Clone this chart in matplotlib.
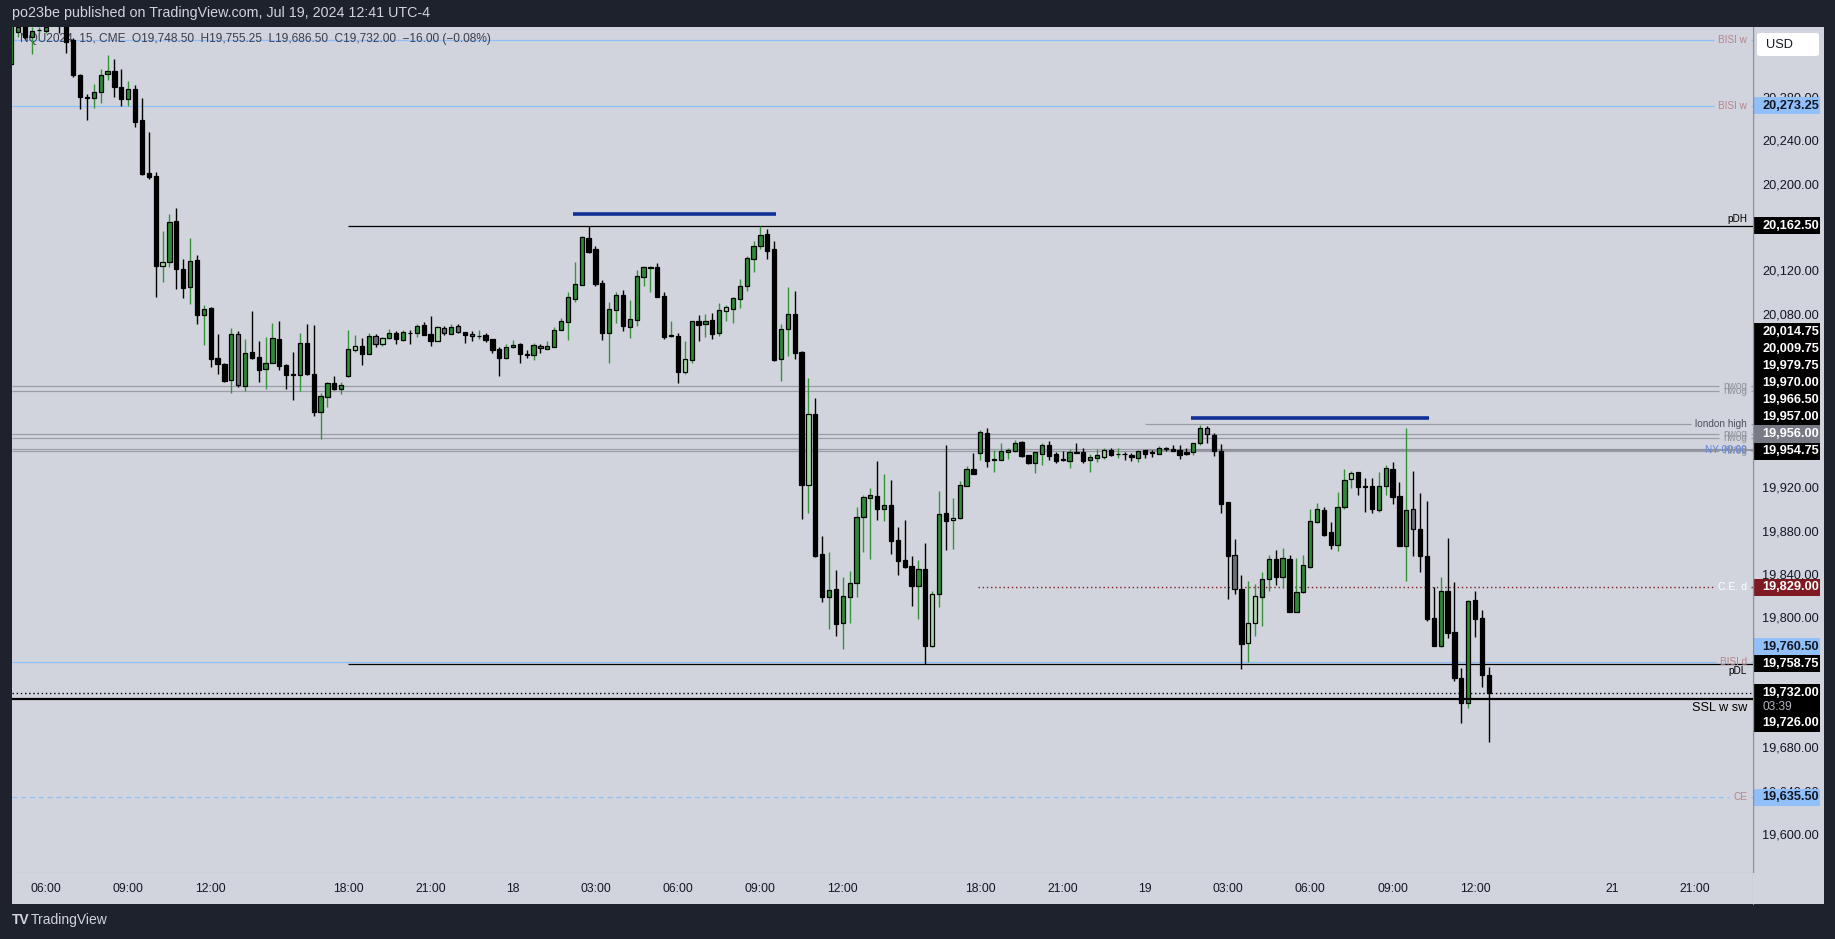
import numpy as np
import pandas as pd
import matplotlib
matplotlib.use('Agg')
import matplotlib.pyplot as plt
from matplotlib.patches import Rectangle, FancyBboxPatch
from matplotlib.transforms import blended_transform_factory

plt.rcParams['font.family'] = ['Liberation Sans', 'DejaVu Sans']

W, H = 1835, 939

# NQU2024, 15 min bars, CME, times UTC-4. first visible bar: Jul 17 04:45
first_bar = '2024-07-17 04:45'

opens = [
    20312, 20341.5, 20350, 20336.25, 20343, 20342, 20356, 20360, 20350, 20333.75,
    20301.5, 20281, 20280, 20285.5, 20302, 20305.25, 20290.75, 20279, 20288.5, 20260,
    20210.75, 20208.25, 20125.5, 20129.25, 20166.75, 20122.5, 20106.25, 20131, 20080.5, 20086.5,
    20040.5, 20035, 20020, 20062.5, 20015, 20045.75, 20041.5, 20030.5, 20036.25, 20057.75,
    20034.5, 20025.5, 20024.5, 20054, 20025.75, 19991, 20005, 20017.25, 20012.25, 20023.5,
    20047.5, 20051.75, 20044.5, 20060.5, 20053, 20058.75, 20063.25, 20057, 20063.5, 20063.25,
    20070.75, 20062.5, 20056.5, 20068.25, 20063, 20069.75, 20064.25, 20062.5, 20060.5, 20061.75,
    20057.75, 20048.5, 20041, 20050.5, 20053.25, 20044, 20043, 20051.75, 20049.25, 20051,
    20066, 20074, 20095.25, 20108.25, 20151, 20141, 20109.5, 20064, 20085, 20098.5,
    20069, 20075.25, 20115.5, 20123.5, 20124.25, 20097.5, 20060.5, 20061, 20028, 20039,
    20074.5, 20072.25, 20075.25, 20064, 20083.5, 20086, 20094.5, 20106.5, 20131.5, 20143.5,
    20154.5, 20140.75, 20039.25, 20067, 20080.75, 20045.75, 19923.75, 19988.5, 19859.75, 19820.5,
    19827.25, 19796.5, 19820.5, 19832.75, 19894.25, 19911.75, 19913, 19901.5, 19904.75, 19872.5,
    19854, 19848.75, 19830.5, 19845.5, 19775.25, 19822.5, 19897.25, 19890.75, 19892.75, 19922.75,
    19938, 19953.25, 19971.5, 19946.75, 19946.75, 19954.25, 19955, 19962.75, 19950.75, 19944,
    19952.25, 19960, 19951.75, 19947, 19945.75, 19953.5, 19953.5, 19946.75, 19948.5, 19949.5,
    19955.5, 19951.75, 19952, 19950.75, 19948.5, 19955.5, 19953.5, 19952.25, 19958, 19956.25,
    19955.5, 19953.5, 19953.5, 19961.75, 19975.75, 19969.5, 19954.75, 19907.5, 19858.5, 19827.5,
    19778, 19795.75, 19819.75, 19836.5, 19855, 19839, 19855, 19806.5, 19825, 19848,
    19889.5, 19900, 19879.75, 19868.5, 19902.75, 19928.5, 19935, 19922.25, 19922.25, 19900.75,
    19922.25, 19938, 19913, 19867.5, 19901, 19882.5, 19858, 19800.5, 19775.25, 19825.5,
    19787.5, 19745, 19722, 19817, 19800.5, 19748.5,
]
highs = [
    20366, 20348, 20355, 20346, 20346, 20350, 20362, 20366, 20356, 20336,
    20302, 20284, 20293, 20307.5, 20320, 20316, 20306.75, 20296, 20292.25, 20280,
    20249, 20212, 20157.25, 20173.25, 20178.5, 20131.75, 20151, 20135.25, 20089, 20087.75,
    20062.5, 20036, 20068, 20065.5, 20058, 20083.75, 20056.25, 20060.25, 20073, 20074.5,
    20035, 20046.25, 20063.25, 20072, 20071, 20008.5, 20018.25, 20024, 20018.25, 20066.5,
    20061.75, 20058.75, 20063.25, 20062.5, 20060.25, 20067, 20065, 20066.5, 20066.5, 20072,
    20073.75, 20079.25, 20069.75, 20069.75, 20071.5, 20072, 20064.5, 20065, 20066.5, 20064,
    20058, 20051, 20053.5, 20057.25, 20054.5, 20047.5, 20054.75, 20053.5, 20056.5, 20069.5,
    20077.5, 20101, 20129.5, 20153, 20162.25, 20144, 20112.5, 20092.25, 20101.75, 20103.25,
    20094, 20121.75, 20125.5, 20125.5, 20128, 20101, 20074.75, 20063.25, 20056.25, 20074.75,
    20080, 20081, 20081.75, 20091, 20089.5, 20097, 20113.5, 20135, 20148, 20162.25,
    20159.25, 20148.5, 20072, 20106, 20102.5, 20047.25, 20022, 20003.5, 19876.5, 19861.25,
    19845, 19838.5, 19844, 19903, 19914.25, 19920.25, 19945.5, 19933.5, 19928, 19885,
    19891, 19858, 19854.25, 19870, 19825.75, 19918, 19960.25, 19911, 19927.5, 19941,
    19953.25, 19974, 19975.75, 19955.75, 19962, 19957.25, 19965, 19964, 19951, 19953.75,
    19962.5, 19963.75, 19953.5, 19954.75, 19956.25, 19962, 19958, 19951.75, 19956.25, 19957.25,
    19958, 19958, 19953.5, 19953, 19955.75, 19955.75, 19955.5, 19959.5, 19958.5, 19960.25,
    19960.25, 19957.25, 19962, 19978.75, 19977.75, 19971, 19961.25, 19907.75, 19873.5, 19840.5,
    19835, 19832, 19843, 19859, 19863.5, 19865.25, 19859, 19856, 19859, 19901.25,
    19906.5, 19903, 19889.25, 19916.75, 19938, 19936.25, 19935.25, 19929.5, 19929.5, 19935,
    19942, 19944.25, 19926, 19975.75, 19936.25, 19915.75, 19908.75, 19829, 19838.5, 19874.25,
    19833.75, 19754.25, 19817.5, 19825.75, 19808, 19755.25,
]
lows = [
    20310, 20336.75, 20335, 20320.75, 20340.5, 20340, 20348, 20340, 20321.5, 20300,
    20269.75, 20260, 20271.5, 20275.5, 20297, 20281, 20273.25, 20273, 20253.75, 20209,
    20205.5, 20097, 20111, 20124.75, 20103.75, 20095.5, 20090, 20072, 20052.5, 20032.5,
    20025.75, 20018, 20008, 20014, 20010.5, 20040, 20018.75, 20011.5, 20035.75, 20029.5,
    20011.5, 20001.5, 20010.5, 20024.75, 19987, 19965.5, 19995.75, 20011, 20007.5, 20023,
    20046.5, 20034, 20044, 20051, 20052, 20058, 20053.25, 20056.5, 20053.5, 20060.25,
    20061.5, 20052, 20056, 20062, 20062.75, 20063.75, 20054.75, 20056.5, 20058.5, 20055.75,
    20045, 20024.25, 20039.75, 20050, 20035.75, 20041, 20038.75, 20045.5, 20049, 20051,
    20066, 20057.25, 20092.5, 20108, 20137.75, 20107, 20057.25, 20036.25, 20073.25, 20065,
    20059.25, 20070.5, 20107, 20101.75, 20096.5, 20058, 20060, 20017.75, 20025.75, 20036.25,
    20056.5, 20060.25, 20058.5, 20061.25, 20075, 20073.25, 20087, 20102.75, 20120.25, 20141.5,
    20132.25, 20038, 20019.75, 20042.75, 20040, 19892.5, 19898, 19857, 19815.75, 19791,
    19784.5, 19772.5, 19796.5, 19820.5, 19862, 19855, 19891.5, 19890.5, 19860, 19840.75,
    19846.5, 19812, 19800, 19758.75, 19773.75, 19811.25, 19863.5, 19864.75, 19892, 19922.5,
    19933.5, 19946.5, 19940.25, 19935.75, 19946.5, 19947.75, 19953.75, 19949.5, 19943, 19934.75,
    19942, 19946.5, 19944, 19946, 19939.5, 19952.5, 19943.75, 19935.5, 19944.5, 19947.75,
    19950.5, 19948.5, 19946.75, 19945.5, 19944.5, 19948.5, 19949.5, 19952, 19955, 19954.75,
    19947.75, 19950.75, 19951, 19960.25, 19962.5, 19950.5, 19898, 19818.25, 19823, 19754,
    19760.5, 19784.25, 19793.75, 19826, 19831.25, 19828, 19806, 19806, 19824, 19847.25,
    19888.75, 19876.75, 19864.75, 19863, 19901.25, 19920.25, 19914.5, 19898.25, 19898, 19898.75,
    19914.25, 19905.5, 19867, 19835.25, 19858.25, 19843.5, 19798.25, 19775, 19774.25, 19782.5,
    19743, 19704, 19718, 19783.5, 19737.5, 19686.5,
]
closes = [
    20358, 20346, 20336.25, 20342.5, 20343.25, 20346, 20352, 20350, 20332.25, 20301.5,
    20281.5, 20280.75, 20286, 20301.5, 20305.25, 20290.75, 20279, 20288.5, 20258.5, 20210.25,
    20207.75, 20125.5, 20129.25, 20166, 20122.25, 20105.5, 20130, 20080.5, 20085.5, 20040,
    20035.25, 20019.25, 20062.5, 20015.25, 20045, 20040.75, 20029.75, 20036, 20059, 20033.5,
    20025, 20025.25, 20054, 20026, 19991, 20005.25, 20017.25, 20012.25, 20015.5, 20048.5,
    20051.75, 20044.5, 20060.5, 20053, 20058.75, 20063.25, 20057.75, 20064.25, 20063.25, 20069.75,
    20062, 20056.5, 20069, 20063.25, 20069, 20064.25, 20062, 20060.5, 20060.75, 20057,
    20048.25, 20041, 20050.5, 20052.25, 20044, 20043.75, 20052.25, 20049.5, 20051.75, 20066,
    20074.5, 20096.5, 20108.5, 20152, 20138.25, 20108.75, 20064, 20085.5, 20098.5, 20070.5,
    20076.25, 20116, 20124.25, 20124.5, 20097, 20060.25, 20061.5, 20028, 20039.25, 20074.5,
    20071, 20074.5, 20063, 20084.5, 20087.25, 20095.5, 20106.75, 20132.5, 20143.5, 20153.75,
    20139.5, 20038.75, 20067, 20080.75, 20045.5, 19923.75, 19988.5, 19858.25, 19820.5, 19826.25,
    19795.5, 19820.75, 19832.75, 19893.5, 19912, 19914, 19901.5, 19904.75, 19872, 19853.5,
    19848, 19830.5, 19845.5, 19775.25, 19822.5, 19896.5, 19890, 19892.75, 19923, 19938,
    19934, 19972, 19945.75, 19947.25, 19954.5, 19955.5, 19962, 19950.5, 19944, 19953.5,
    19960, 19950.5, 19945.75, 19946.75, 19953.5, 19953.25, 19945.75, 19949, 19950.75, 19955.5,
    19951.5, 19952, 19951.75, 19949.5, 19954.5, 19952.25, 19953.25, 19957.25, 19956.25, 19955,
    19951.5, 19952.25, 19961.75, 19975.75, 19970, 19955, 19906.25, 19858.25, 19827.75, 19777,
    19795.75, 19820.75, 19836.5, 19855, 19839, 19855.75, 19806.5, 19824.5, 19849.25, 19890,
    19901, 19877.25, 19868.5, 19902.75, 19927.75, 19934.25, 19922, 19922, 19901.5, 19922.25,
    19938.75, 19912.75, 19867.5, 19900, 19882.5, 19858.25, 19800, 19775.25, 19825.5, 19787.25,
    19745, 19722, 19816, 19800, 19748, 19732,
]
# bars drawn with the pale / grey body colours (index in the arrays above)
light_up_bars = [22, 50, 54, 62, 98, 104, 116, 134, 137, 159, 180, 181, 195]
grey_down_bars = [33, 53, 63, 65, 67, 77, 168, 174, 178, 204]

tick_times = ['2024-07-17 06:00', '2024-07-17 09:00', '2024-07-17 12:00', '2024-07-17 18:00',
              '2024-07-17 21:00', '2024-07-18 00:00', '2024-07-18 03:00', '2024-07-18 06:00',
              '2024-07-18 09:00', '2024-07-18 12:00', '2024-07-18 18:00', '2024-07-18 21:00',
              '2024-07-19 00:00', '2024-07-19 03:00', '2024-07-19 06:00', '2024-07-19 09:00',
              '2024-07-19 12:00', '2024-07-21 18:00', '2024-07-21 21:00']
tick_labels = ['06:00', '09:00', '12:00', '18:00', '21:00', '18', '03:00', '06:00', '09:00',
               '12:00', '18:00', '21:00', '19', '03:00', '06:00', '09:00', '12:00', '21', '21:00']
price_ticks = list(range(19600, 20281, 40))

# drawn levels
bisi_w = [20334.0, 20273.25]
pdh, pdl = 20162.5, 19758.75
nwog_top = [20014.75, 20009.75]
london_high = 19979.75
nwog_mid = [19970.0, 19966.5]
nwog_low = [19957.0, 19954.75]
ny_open = 19956.0
ce_d = 19829.0
bisi_d = 19760.5
last_price, ssl = 19732.0, 19726.0
ce = 19635.5
eq_highs = [('2024-07-18 02:15', '2024-07-18 09:30', 20173.25),
            ('2024-07-19 01:45', '2024-07-19 10:15', 19985.0)]

# colours
DARK = '#1e222d'
BG = '#d1d4dc'
SEP = '#8d919b'
GREEN = '#2d8a35'
WICK_G = '#36933a'
PALE = '#a6d6a4'
GREY = '#6b6e79'
LBLUE = '#90bff9'
MAUVE = '#b8838d'
LINE_G = '#9a9da6'
NWOG_T = '#8f929b'
RED = '#801a22'

# bar positions on a gap-free axis (session break 17-18h, weekend)
rng = pd.date_range(first_bar, '2024-07-21 23:45', freq='15min')
keep = (rng.hour != 17) & ~((rng.dayofweek == 4) & (rng.hour >= 17)) & (rng.dayofweek != 5) \
       & ~((rng.dayofweek == 6) & (rng.hour < 18))
bar_times = rng[keep]


def pos(t):
    return bar_times.get_loc(pd.Timestamp(t))


o, hi, lo, c = map(np.array, (opens, highs, lows, closes))
x = np.arange(len(o))
up = c >= o
body_col = np.where(up, GREEN, '#000000').astype(object)
body_col[light_up_bars] = PALE
body_col[grey_down_bars] = GREY
wick_col = np.where(up, WICK_G, '#000000')

fig = plt.figure(figsize=(W / 100, H / 100), dpi=100, facecolor=DARK)
renderer = fig.canvas.get_renderer()


def box(x0, y0, x1, y1):
    return [x0 / W, 1 - y1 / H, (x1 - x0) / W, (y1 - y0) / H]


PLOT_L, PLOT_R, PLOT_T, PLOT_B = 11.7, 1753, 27, 873
ax = fig.add_axes(box(PLOT_L, PLOT_T, PLOT_R, PLOT_B), facecolor=BG)
pax = fig.add_axes(box(PLOT_R, PLOT_T, 1824, PLOT_B), facecolor=BG)
tax = fig.add_axes(box(PLOT_L, PLOT_B, PLOT_R, 904), facecolor=BG)
cax = fig.add_axes(box(PLOT_R, PLOT_B, 1824, 904), facecolor=BG)

YMIN, YMAX = 19565.6, 20345.8
XMIN, XMAX = 0.05, 253.45
ax.set_xlim(XMIN, XMAX)
ax.set_ylim(YMIN, YMAX)
pax.set_ylim(YMIN, YMAX)
pax.set_xlim(0, 1)
tax.set_xlim(XMIN, XMAX)
tax.set_ylim(0, 1)
for a in (ax, pax, tax, cax):
    a.set_xticks([])
    a.set_yticks([])
    for s in a.spines.values():
        s.set_visible(False)
ax.spines['right'].set_visible(True)
ax.spines['right'].set_color(SEP)
ax.spines['bottom'].set_visible(True)
ax.spines['bottom'].set_color(SEP)
tax.spines['right'].set_visible(True)
tax.spines['right'].set_color(SEP)

tr = blended_transform_factory(ax.transAxes, ax.transData)
LX = (1747 - PLOT_L) / (PLOT_R - PLOT_L)


def level(p, x0, style, label=None, col=None, size=7.2):
    # level line; with a label, the line is broken around the text like TradingView does
    if label is None:
        ax.hlines(p, x0, XMAX, **style)
        return
    t = ax.text(LX, p, label, transform=tr, ha='right', va='center', color=col,
                fontsize=size, zorder=6)
    bb = t.get_window_extent(renderer)
    inv = ax.transData.inverted()
    g0 = inv.transform((bb.x0 - 4, 0))[0]
    g1 = inv.transform((bb.x1 + 4, 0))[0]
    ax.hlines(p, x0, g0, **style)
    ax.hlines(p, g1, XMAX, **style)


blue_st = dict(color=LBLUE, lw=0.9, zorder=1)
grey_st = dict(color=LINE_G, lw=0.9, zorder=1)
for p in bisi_w:
    level(p, XMIN, blue_st, 'BISI w', MAUVE)
level(bisi_d, XMIN, blue_st, 'BISI d', MAUVE)
level(ce, XMIN, dict(blue_st, linestyles=(0, (4, 3))), 'CE', MAUVE)
for p in nwog_top + nwog_mid + nwog_low:
    level(p, XMIN, grey_st, 'nwog', NWOG_T)
level(london_high, pos('2024-07-19 00:00'), grey_st, 'london high', '#4c505b')
ax.hlines(ny_open, pos('2024-07-19 00:00'), XMAX, color='#8a8d96', lw=1.2, zorder=1)
ax.text(LX, ny_open, 'NY 00:00', transform=tr, ha='right', va='center', color='#5b87e6',
        fontsize=7.2, zorder=6)
level(ce_d, pos('2024-07-18 18:00') - 0.3, dict(color=RED, lw=1.0, linestyles=(0, (1, 2)), zorder=2),
      'C.E. d', 'white', size=7.6)
ax.hlines([pdh, pdl], pos('2024-07-17 18:00'), XMAX, color='black', lw=0.9, zorder=2)
ax.text(LX, pdh + 2, 'pDH', transform=tr, ha='right', va='bottom', color='black', fontsize=7.2)
ax.text(LX, pdl - 2, 'pDL', transform=tr, ha='right', va='top', color='black', fontsize=7.2)
ax.hlines(last_price, XMIN, XMAX, color='black', lw=1.0, linestyles=(0, (1, 2)), zorder=2)
ax.hlines(ssl, XMIN, XMAX, color='black', lw=1.6, zorder=4)
ax.text(LX, ssl - 3, 'SSL w sw', transform=tr, ha='right', va='top', color='black', fontsize=9.2)
for t0, t1, p in eq_highs:
    ax.hlines(p, pos(t0) - 0.3, pos(t1) + 0.3, color='#0f2f96', lw=2.6, zorder=4)

# candles
ax.vlines(x, lo, hi, colors=wick_col, lw=1.0, zorder=3)
ax.bar(x, np.maximum(np.abs(c - o), 0.4), bottom=np.minimum(o, c), width=0.62,
       color=list(body_col), edgecolor='black', linewidth=0.9, zorder=3)

# price scale
BOX_H = 15.7
TX = (1762 - PLOT_R) / (1824 - PLOT_R)
BW = (1820 - PLOT_R) / (1824 - PLOT_R)
for p in price_ticks:
    pax.text(TX, p, f'{p:,.2f}', ha='left', va='center', fontsize=9.2, color='#131722', zorder=2)


def price_box(p, val, fc, tc, h=BOX_H):
    pax.add_patch(Rectangle((0, p - h / 2), BW, h, fc=fc, ec='none', zorder=4))
    pax.text(TX, p, f'{val:,.2f}', ha='left', va='center', fontsize=9.2, color=tc,
             weight='bold', zorder=5)


def stack_up(prices):
    placed, last = {}, None
    for p in sorted(prices):
        q = p if last is None else max(p, last + BOX_H)
        placed[p] = q
        last = q
    return placed


price_box(bisi_w[1], bisi_w[1], LBLUE, '#131722')
price_box(pdh, pdh, 'black', 'white')
cluster = stack_up(nwog_top + [london_high] + nwog_mid + nwog_low + [ny_open])
for p, q in cluster.items():
    price_box(q, p, '#787b86' if p == ny_open else 'black', 'white')
price_box(ce_d, ce_d, RED, 'white')
low_pair = stack_up([bisi_d, pdl])
price_box(low_pair[bisi_d], bisi_d, LBLUE, '#131722')
price_box(low_pair[pdl], pdl, 'black', 'white')
# last price with bar countdown, SSL box pushed under it
pax.add_patch(Rectangle((0, last_price - 1.45 * BOX_H), BW, 1.95 * BOX_H, fc='black',
                        ec='none', zorder=4))
pax.text(TX, last_price, f'{last_price:,.2f}', ha='left', va='center', fontsize=9.2,
         color='white', weight='bold', zorder=5)
pax.text(TX, last_price - 0.85 * BOX_H, '03:39', ha='left', va='center', fontsize=8.6,
         color='#b2b5be', zorder=5)
price_box(last_price - 1.8 * BOX_H, ssl, 'black', 'white')
price_box(ce, ce, LBLUE, '#131722')
pax.axvline(0, color=SEP, lw=1.0, zorder=6)

# time scale
for t, s in zip(tick_times, tick_labels):
    tax.text(pos(t), 0.47, s, ha='center', va='center', fontsize=8.8, color='#131722',
             family=['Liberation Sans Narrow', 'Liberation Sans', 'DejaVu Sans'])

# legend, header, footer
ax.text((20 - PLOT_L) / (PLOT_R - PLOT_L), (PLOT_B - 38.6) / (PLOT_B - PLOT_T),
        'NQU2024, 15, CME  O19,748.50  H19,755.25  L19,686.50  C19,732.00  \u221216.00 (\u22120.08%)',
        transform=ax.transAxes, ha='left', va='center', fontsize=8.6, color='#3a3e49', zorder=2)
fig.text(11.7 / W, 1 - 13.5 / H, 'po23be published on TradingView.com, Jul 19, 2024 12:41 UTC-4',
         ha='left', va='center', fontsize=10.3, color='#d1d4dc')
fig.text(12 / W, 1 - 920 / H, 'TV', ha='left', va='center', fontsize=10, weight='bold',
         color='#d1d4dc')
fig.text(31 / W, 1 - 920 / H, 'TradingView', ha='left', va='center', fontsize=10,
         color='#d1d4dc', family=['Liberation Sans Narrow', 'Liberation Sans'])
fig.add_artist(FancyBboxPatch((1757 / W, 1 - 56 / H), 62 / W, 23 / H,
                              boxstyle='round,pad=0,rounding_size=0.002',
                              fc='white', ec='none', transform=fig.transFigure))
fig.text(1766 / W, 1 - 44.5 / H, 'USD', ha='left', va='center', fontsize=9.2, color='#131722')

fig.savefig('out.png', dpi=100, facecolor=DARK)
